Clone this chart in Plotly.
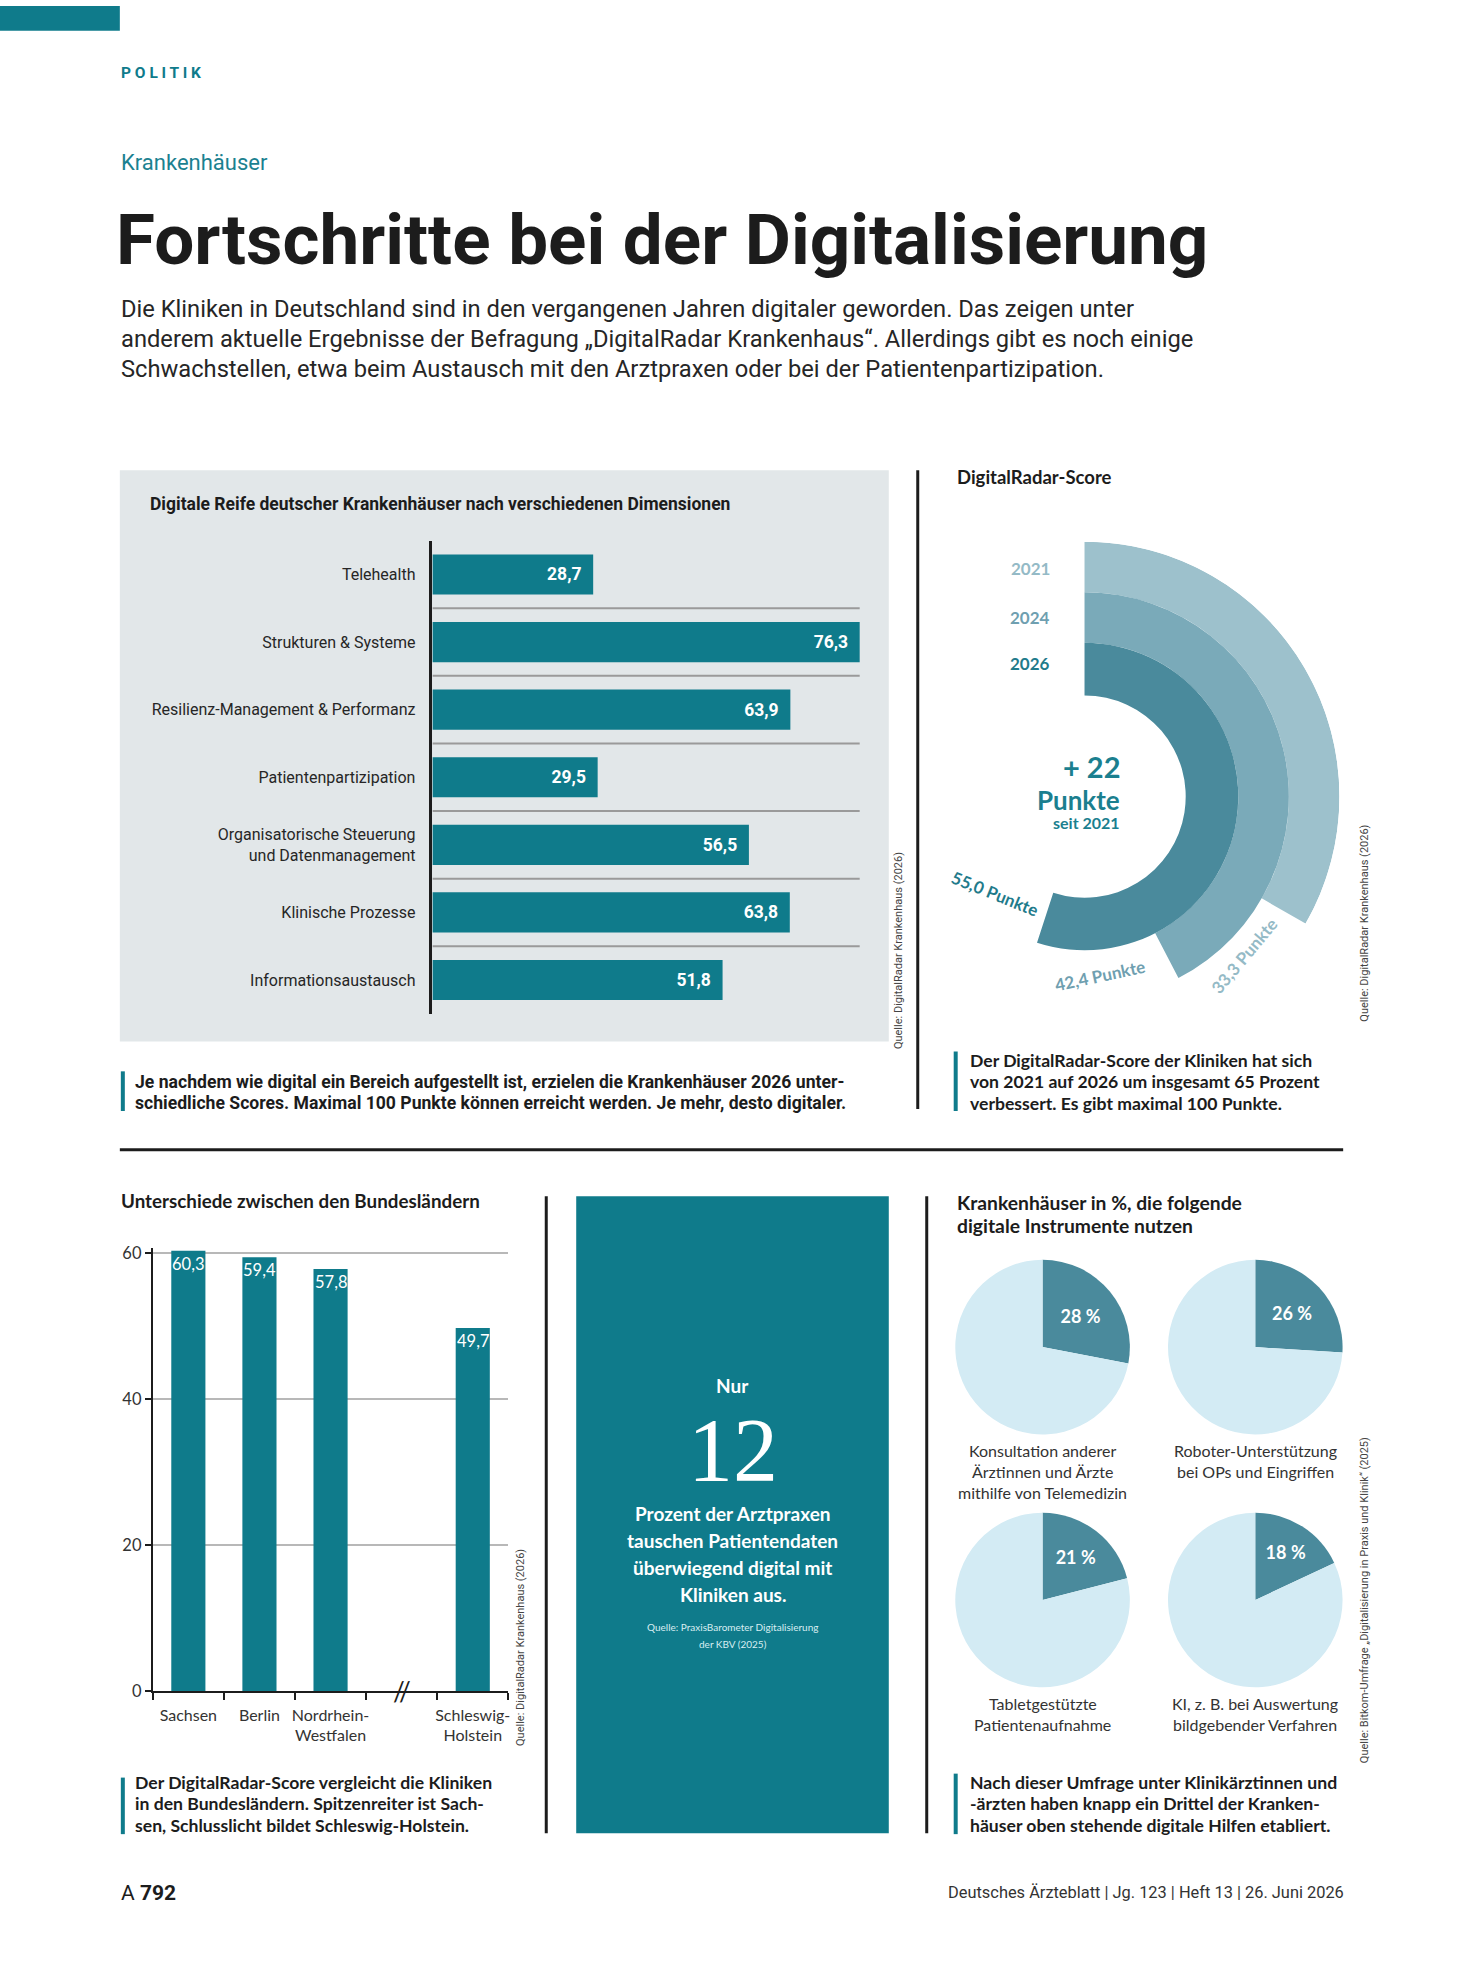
import plotly.graph_objects as go

# ---------------- data ----------------
dimensionen = ["Telehealth", "Strukturen & Systeme", "Resilienz-Management & Performanz",
               "Patientenpartizipation", "Organisatorische Steuerung<br>und Datenmanagement",
               "Klinische Prozesse", "Informationsaustausch"]
dim_scores = [28.7, 76.3, 63.9, 29.5, 56.5, 63.8, 51.8]

radar_years = ["2021", "2024", "2026"]
radar_scores = [33.3, 42.4, 55.0]
radar_max = 100

laender = ["Sachsen", "Berlin", "Nordrhein-<br>Westfalen", "Schleswig-<br>Holstein"]
laender_scores = [60.3, 59.4, 57.8, 49.7]
laender_ticks = [0, 20, 40, 60]

praxen_anteil = 12

instrumente = ["Konsultation anderer<br>Ärztinnen und Ärzte<br>mithilfe von Telemedizin",
               "Roboter-Unterstützung<br>bei OPs und Eingriffen",
               "Tabletgestützte<br>Patientenaufnahme",
               "KI, z. B. bei Auswertung<br>bildgebender Verfahren"]
instrumente_pct = [28, 26, 21, 18]

# ---------------- style ----------------
W, H = 1467, 1985
TEAL = "#0f7b8b"
DARK = "#1c1c1c"
TXT = "#262626"
GREY_BG = "#e2e7e9"
RING_COLORS = ["#9dc1cc", "#7aaab9", "#4a8a9c"]
YEAR_COLORS = ["#94bac6", "#6f9fb0", "#1f7b8b"]
PIE_DARK = "#4a8a9c"
PIE_LIGHT = "#d3ebf4"
COND = "Roboto, Lato, sans-serif"
WIDE = "Lato, Open Sans, sans-serif"
SERIF = "Liberation Serif, DejaVu Serif, serif"


def px(x):
    return x / W


def py(y):
    return 1 - y / H


def fmt(v):
    return f"{v:.1f}".replace(".", ",")


annotations = []
shapes = []


def txt(s, x, y, size, color=TXT, family=COND, anchor="left", bold=False, angle=0, yanchor="middle"):
    annotations.append(dict(text=s, x=px(x), y=py(y), xref="paper", yref="paper",
                            xanchor=anchor, yanchor=yanchor, showarrow=False,
                            textangle=angle,
                            font=dict(size=size, color=color, family=family,
                                      weight=700 if bold else 400)))


def rect(x0, y0, x1, y1, color, layer="below"):
    shapes.append(dict(type="rect", xref="paper", yref="paper", x0=px(x0), x1=px(x1),
                       y0=py(y1), y1=py(y0), fillcolor=color, line=dict(width=0), layer=layer))


def line(x0, y0, x1, y1, color=DARK, width=3):
    shapes.append(dict(type="line", xref="paper", yref="paper", x0=px(x0), x1=px(x1),
                       y0=py(y0), y1=py(y1), line=dict(color=color, width=width)))


fig = go.Figure()

# ---------------- header ----------------
rect(0, 0, 120, 25, TEAL)
txt("P O L I T I K", 119, 68, 15.5, TEAL, COND, bold=True)
txt("Krankenhäuser", 119, 158, 22, "#1b8190", COND)
txt("Fortschritte bei der Digitalisierung", 114, 235, 71, DARK, COND, bold=True)
intro = ["Die Kliniken in Deutschland sind in den vergangenen Jahren digitaler geworden. Das zeigen unter",
         "anderem aktuelle Ergebnisse der Befragung „DigitalRadar Krankenhaus“. Allerdings gibt es noch einige",
         "Schwachstellen, etwa beim Austausch mit den Arztpraxen oder bei der Patientenpartizipation."]
for i, l in enumerate(intro):
    txt(l, 119, 305 + i * 30.5, 23.7, TXT, COND)

# ---------------- panel 1: horizontal bars ----------------
rect(120, 468, 890, 1044, GREY_BG)
txt("Digitale Reife deutscher Krankenhäuser nach verschiedenen Dimensionen", 148, 502, 17.5, DARK, COND, bold=True)

fig.add_trace(go.Bar(
    orientation="h", x=dim_scores, y=dimensionen, width=0.594,
    marker=dict(color=TEAL, line=dict(width=0)),
    text=[fmt(v) + "\u00a0\u00a0" for v in dim_scores], textposition="inside",
    insidetextanchor="end", textangle=0,
    textfont=dict(color="white", size=17.5, family=COND, weight=700),
    xaxis="x", yaxis="y", showlegend=False, hoverinfo="skip"))
for i in range(len(dimensionen) - 1):
    shapes.append(dict(type="line", xref="x", yref="y", x0=0, x1=max(dim_scores),
                       y0=i + 0.5, y1=i + 0.5, line=dict(color="#9a9a9a", width=2)))

txt("Quelle: DigitalRadar Krankenhaus (2026)", 900, 952, 11, "#444", COND, anchor="center", angle=-90)
rect(121, 1074, 125, 1114, TEAL, layer="above")
txt("Je nachdem wie digital ein Bereich aufgestellt ist, erzielen die Krankenhäuser 2026 unter-", 133, 1085, 17.6, DARK, COND, bold=True)
txt("schiedliche Scores. Maximal 100 Punkte können erreicht werden. Je mehr, desto digitaler.", 133, 1106, 17.6, DARK, COND, bold=True)

line(919, 468, 919, 1112)
line(120, 1153, 1345, 1153)

# ---------------- panel 2: DigitalRadar-Score ----------------
txt("DigitalRadar-Score", 956, 475, 18.5, DARK, WIDE, bold=True)
ring_radii = [(206, 257), (155, 206), (102, 155)]
for yr, sc, (r0, r1), col in zip(radar_years, radar_scores, ring_radii, RING_COLORS):
    span = sc / radar_max * 360
    fig.add_trace(go.Barpolar(theta=[span / 2], width=[span], r=[r1 - r0], base=[r0],
                              marker=dict(color=col, line=dict(width=0)),
                              showlegend=False, hoverinfo="skip", subplot="polar"))
for yr, col, yy in zip(radar_years, YEAR_COLORS, [567, 616, 663]):
    txt(yr, 1053, yy, 17, col, WIDE, anchor="right", bold=True)

diff = round(radar_scores[-1] - radar_scores[0])
txt(f"+ {diff}", 1125, 767, 29, "#1b7f8f", WIDE, anchor="right", bold=True)
txt("Punkte", 1124, 800, 26, "#1b7f8f", WIDE, anchor="right", bold=True)
txt("seit " + radar_years[0], 1124, 823, 16, "#1b7f8f", WIDE, anchor="right", bold=True)

txt(fmt(radar_scores[2]) + " Punkte", 996, 895, 17, YEAR_COLORS[2], WIDE, anchor="center", bold=True, angle=22)
txt(fmt(radar_scores[1]) + " Punkte", 1102, 977, 17, YEAR_COLORS[1], WIDE, anchor="center", bold=True, angle=-12)
txt(fmt(radar_scores[0]) + " Punkte", 1246, 957, 17, YEAR_COLORS[0], WIDE, anchor="center", bold=True, angle=-50)

txt("Quelle: DigitalRadar Krankenhaus (2026)", 1366, 925, 11, "#444", COND, anchor="center", angle=-90)
rect(955, 1054, 959, 1114, TEAL, layer="above")
cap2 = ["Der DigitalRadar-Score der Kliniken hat sich",
        "von 2021 auf 2026 um insgesamt 65 Prozent",
        "verbessert. Es gibt maximal 100 Punkte."]
for i, l in enumerate(cap2):
    txt(l, 969, 1063 + i * 21.5, 17.6, DARK, WIDE, bold=True)

# ---------------- panel 3: Bundesländer ----------------
txt("Unterschiede zwischen den Bundesländern", 119, 1204, 18.8, DARK, WIDE, bold=True)
gap = "\u2009"
cats = laender[:3] + [gap] + laender[3:]
vals = laender_scores[:3] + [None] + laender_scores[3:]
fig.add_trace(go.Bar(
    x=cats, y=vals, width=0.48, marker=dict(color=TEAL, line=dict(width=0)),
    xaxis="x2", yaxis="y2", showlegend=False, hoverinfo="skip"))
for c, v in zip(cats, vals):
    if v is None:
        continue
    annotations.append(dict(text=fmt(v), x=c, y=v, xref="x2", yref="y2", showarrow=False,
                            xanchor="center", yanchor="top", yshift=-1,
                            font=dict(size=16.5, color="white", family=WIDE)))
annotations.append(dict(text="//", x=gap, y=0, xref="x2", yref="y2", showarrow=False,
                        font=dict(size=26, color=DARK, family=WIDE), xanchor="center", yanchor="middle"))
txt("Quelle: DigitalRadar Krankenhaus (2026)", 521, 1655, 11, "#444", COND, anchor="center", angle=-90)
rect(121, 1786, 125, 1843, TEAL, layer="above")
cap3 = ["Der DigitalRadar-Score vergleicht die Kliniken",
        "in den Bundesländern. Spitzenreiter ist Sach-",
        "sen, Schlusslicht bildet Schleswig-Holstein."]
for i, l in enumerate(cap3):
    txt(l, 133, 1791 + i * 21.5, 17.6, DARK, WIDE, bold=True)

line(547, 1200, 547, 1842)

# ---------------- middle box ----------------
rect(577, 1200, 890, 1842, TEAL)
txt("Nur", 734, 1391, 19, "white", WIDE, anchor="center", bold=True)
txt(str(praxen_anteil), 734, 1456, 90, "white", SERIF, anchor="center")
box = ["Prozent der Arztpraxen", "tauschen Patientendaten", "überwiegend digital mit", "Kliniken aus."]
for i, l in enumerate(box):
    txt(l, 734, 1520 + i * 27.3, 19, "white", WIDE, anchor="center", bold=True)
txt("Quelle: PraxisBarometer Digitalisierung", 734, 1634, 10, "#d8eef2", WIDE, anchor="center")
txt("der KBV (2025)", 734, 1651, 10, "#d8eef2", WIDE, anchor="center")

line(928, 1200, 928, 1842)

# ---------------- panel 4: pies ----------------
txt("Krankenhäuser in %, die folgende", 956, 1206, 19.3, DARK, WIDE, bold=True)
txt("digitale Instrumente nutzen", 956, 1229, 19.3, DARK, WIDE, bold=True)
pie_centers = [(1044, 1352), (1257, 1352), (1044, 1607), (1257, 1607)]
pie_r = 88
for (cx, cy), lab, p in zip(pie_centers, instrumente, instrumente_pct):
    fig.add_trace(go.Pie(
        values=[p, 100 - p], sort=False, direction="clockwise", rotation=0,
        marker=dict(colors=[PIE_DARK, PIE_LIGHT], line=dict(width=0)),
        text=[f"{p} %", ""], textinfo="text", textposition="inside",
        insidetextorientation="horizontal",
        textfont=dict(color="white", size=18, family=WIDE, weight=700),
        domain=dict(x=[px(cx - pie_r), px(cx + pie_r)], y=[py(cy + pie_r), py(cy - pie_r)]),
        showlegend=False, hoverinfo="skip"))
    for j, l in enumerate(lab.split("<br>")):
        txt(l, cx, cy + 104 + j * 21.5, 16, "#333", WIDE, anchor="center")

txt("Quelle: Bitkom-Umfrage „Digitalisierung in Praxis und Klinik“ (2025)", 1366, 1607, 11, "#444", COND, anchor="center", angle=-90)
rect(955, 1782, 959, 1843, TEAL, layer="above")
cap4 = ["Nach dieser Umfrage unter Klinikärztinnen und",
        "-ärzten haben knapp ein Drittel der Kranken-",
        "häuser oben stehende digitale Hilfen etabliert."]
for i, l in enumerate(cap4):
    txt(l, 969, 1791 + i * 21.5, 17.6, DARK, WIDE, bold=True)

# ---------------- footer ----------------
txt("A <b>792</b>", 119, 1902, 21, DARK, COND)
txt("Deutsches Ärzteblatt | Jg. 123 | Heft 13 | 26. Juni 2026", 1348, 1902, 16.4, "#333", COND, anchor="right")

# ---------------- layout ----------------
y3_top = 60.6
fig.update_layout(
    width=W, height=H, autosize=False, margin=dict(l=0, r=0, t=0, b=0),
    paper_bgcolor="white", plot_bgcolor="rgba(0,0,0,0)",
    xaxis=dict(domain=[px(433), px(861)], range=[0, max(dim_scores)], visible=False, fixedrange=True),
    yaxis=dict(domain=[py(1016), py(539)], categoryorder="array", categoryarray=dimensionen,
               autorange="reversed", showline=True, linecolor=DARK, linewidth=2.5,
               ticks="", ticklabelstandoff=11, showgrid=False, zeroline=False,
               tickfont=dict(size=16, family=COND, color=TXT)),
    xaxis2=dict(domain=[px(153), px(509)], anchor="y2", type="category",
                categoryorder="array", categoryarray=cats, tickangle=0,
                showline=True, linecolor=DARK, linewidth=2, ticks="outside", ticklen=7,
                tickcolor=DARK, tickwidth=2, tickson="boundaries", showgrid=False,
                ticklabelstandoff=8,
                tickfont=dict(size=16, family=WIDE, color="#333")),
    yaxis2=dict(domain=[py(1699), py(1699 - y3_top * 7.367)], anchor="x2", range=[0, y3_top],
                tickvals=laender_ticks, showline=True, linecolor=DARK, linewidth=2,
                ticks="outside", ticklen=6, tickcolor=DARK, tickwidth=2,
                showgrid=True, gridcolor="#b8b8b8", gridwidth=1.5, zeroline=False,
                tickfont=dict(size=16.5, family=WIDE, color="#333")),
    polar=dict(domain=dict(x=[px(829), px(1343)], y=[py(1054), py(540)]),
               bgcolor="rgba(0,0,0,0)", barmode="overlay", hole=0,
               radialaxis=dict(range=[0, 257], visible=False, showgrid=False),
               angularaxis=dict(rotation=90, direction="clockwise", visible=False,
                                showgrid=False, thetaunit="degrees")),
    annotations=annotations, shapes=shapes,
    bargap=0.4,
)

fig.write_html("out.html", config={"responsive": False},
               post_script="document.body.style.margin='0px';document.body.style.padding='0px';")
